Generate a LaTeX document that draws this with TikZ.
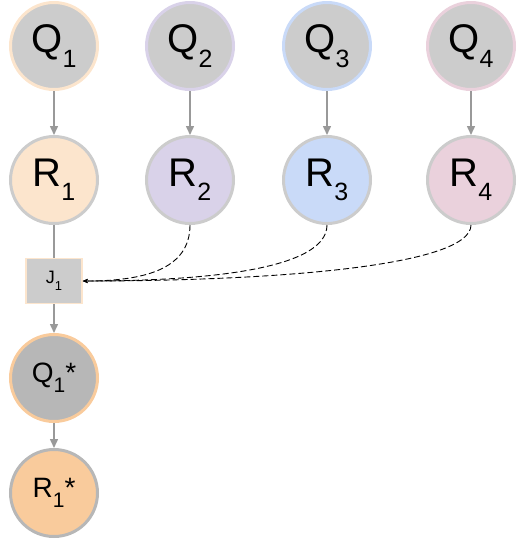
\documentclass[tikz,border=0pt]{standalone}
\usepackage{fontspec}
\setmainfont{Liberation Sans}
\usepackage{xcolor}
\usetikzlibrary{arrows.meta}

\definecolor{qgray}{HTML}{CCCCCC}
\definecolor{qdark}{HTML}{B7B7B7}
\definecolor{lineg}{HTML}{999999}
\definecolor{orangel}{HTML}{FCE5CD}
\definecolor{oranged}{HTML}{F9CB9C}
\definecolor{purplel}{HTML}{D9D2E9}
\definecolor{bluel}{HTML}{C9DAF8}
\definecolor{pinkl}{HTML}{EAD1DC}

% lowered index: size, text
\newcommand{\lowidx}[2]{\raisebox{-0.36em}{\fontsize{#1}{#1}\selectfont #2}}

\begin{document}
\begin{tikzpicture}[x=1pt, y=-1pt,
    ball/.style={circle, line width=3pt, minimum size=87pt, inner sep=0pt,
      font=\fontsize{40}{41}\selectfont},
    qball/.style={ball, fill=qgray, draw=#1},
    rball/.style={ball, fill=#1, draw=qgray},
    flow/.style={lineg, line width=1.5pt, -{Triangle[length=9pt,width=8pt]}},
    feed/.style={black, dash pattern=on 6pt off 3pt, line width=0.9pt,
      -{Stealth[length=5pt,width=4pt]}}]
    \useasboundingbox (0,0) rectangle (526,539);

    % top row
    \node[qball=orangel] (q1) at (54, 46) {Q\lowidx{25}{1}};
    \node[qball=purplel] (q2) at (190, 46) {Q\lowidx{25}{2}};
    \node[qball=bluel] (q3) at (327, 46) {Q\lowidx{25}{3}};
    \node[qball=pinkl] (q4) at (471, 46) {Q\lowidx{25}{4}};

    % second row
    \node[rball=orangel] (r1) at (54, 180) {R\lowidx{25}{1}};
    \node[rball=purplel] (r2) at (190, 180) {R\lowidx{25}{2}};
    \node[rball=bluel] (r3) at (327, 180) {R\lowidx{25}{3}};
    \node[rball=pinkl] (r4) at (471, 180) {R\lowidx{25}{4}};

    % joint box and results
    \node[fill=qgray, draw=orangel, line width=1.5pt, minimum width=56pt,
      minimum height=45pt, inner sep=0pt, font=\fontsize{18}{18}\selectfont]
      (j1) at (54, 281) {J\lowidx{13}{1}};
    \node[ball, fill=qdark, draw=oranged, font=\fontsize{28}{29}\selectfont]
      (qs) at (54, 378) {Q\lowidx{21}{1}*};
    \node[ball, fill=oranged, draw=qdark, font=\fontsize{28}{29}\selectfont]
      (rs) at (54, 493) {R\lowidx{21}{1}*};

    \foreach \i in {1,2,3,4}
      \draw[flow] (q\i) -- (r\i);
    \draw[lineg, line width=1.5pt] (r1) -- (j1);
    \draw[flow] (j1) -- (qs);
    \draw[flow] (qs) -- (rs);

    \draw[feed] (r2.south) .. controls +(0,45) and +(60,0) .. (j1.east);
    \draw[feed] (r3.south) .. controls +(0,45) and +(120,0) .. (j1.east);
    \draw[feed] (r4.south) .. controls +(0,40) and +(200,0) .. (j1.east);
  \end{tikzpicture}
\end{document}
